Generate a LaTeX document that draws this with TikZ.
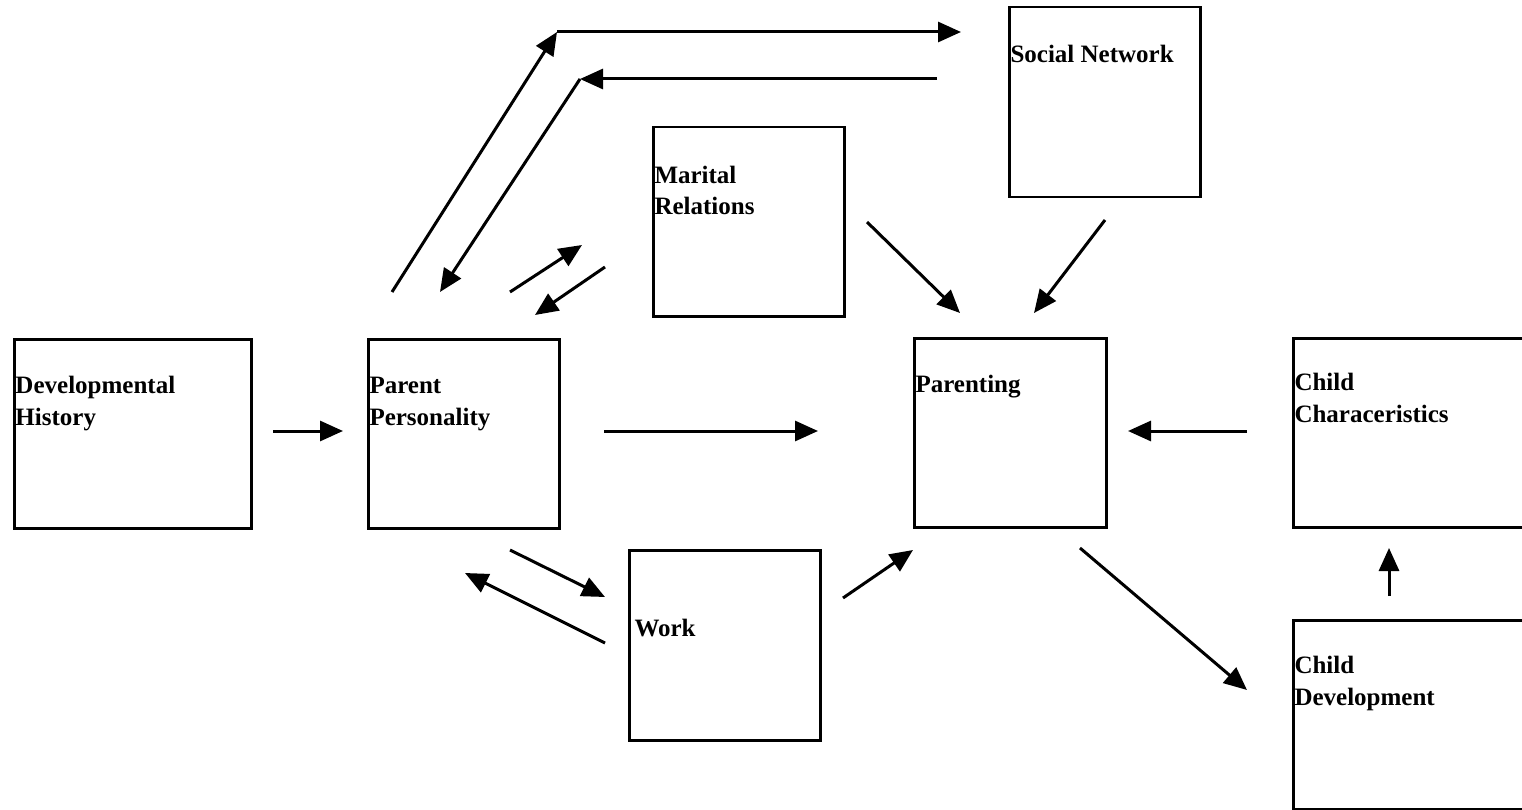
\documentclass[tikz,border=0pt]{standalone}
\usepackage{fontspec}
\setmainfont{Liberation Serif}
\usetikzlibrary{arrows.meta}

\begin{document}
\begin{tikzpicture}[x=1pt,y=-1pt,->,>={Triangle[length=23pt,width=20pt]},
                    line width=3pt,
                    box/.style={draw,line width=2.5pt,anchor=north west,inner sep=0pt,
                                minimum width=191pt,minimum height=189pt},
                    lbl/.style={anchor=base west,inner sep=0pt,align=left,
                                font=\bfseries\fontsize{25}{32}\selectfont}]

  \useasboundingbox (0,0) rectangle (1522,810);

  \node[box,minimum width=237pt] (dev)  at (13,338)  {};
  \node[box]                     (pers) at (367,338) {};
  \node[box]                     (mar)  at (652,126) {};
  \node[box,minimum height=190pt] (soc) at (1008,6)  {};
  \node[box,minimum width=192pt] (par)  at (913,337) {};
  \node[box,minimum width=240pt] (cc)   at (1292,337) {};
  \node[box,minimum height=190pt] (work) at (628,549) {};
  \node[box,minimum width=240pt] (cd)   at (1292,619) {};

  % base of the last line of each label
  \node[lbl] (devt)  at ([shift={(1,87)}]dev.north west)  {Developmental\\History};
  \node[lbl] (perst) at ([shift={(1,87)}]pers.north west) {Parent\\Personality};
  \node[lbl] (mart)  at ([shift={(1,89)}]mar.north west)  {Marital\\Relations};
  \node[lbl] (soct)  at ([shift={(1,57)}]soc.north west)  {Social Network};
  \node[lbl] (part)  at ([shift={(1,55)}]par.north west)  {Parenting};
  \node[lbl] (cct)   at ([shift={(1,85)}]cc.north west)   {Child\\Characeristics};
  \node[lbl] (workt) at ([shift={(5,87)}]work.north west) {Work};
  \node[lbl] (cdt)   at ([shift={(1,86)}]cd.north west)   {Child\\Development};

  % free ends of the arrows
  \coordinate (dev-o)  at (273,431);  \coordinate (pers-i) at (343,431);
  \coordinate (pers-o) at (604,431);  \coordinate (par-i)  at (818,431);
  \coordinate (cc-o)   at (1247,431); \coordinate (par-r)  at (1128,431);
  \coordinate (cd-o)   at (1389,596); \coordinate (cc-i)   at (1389,548);
  \coordinate (par-o)  at (1080,548); \coordinate (cd-i)   at (1247,690);
  \coordinate (work-o) at (843,598);  \coordinate (par-b)  at (913,550);
  \coordinate (pers-w) at (510,550);  \coordinate (work-i) at (605,597);
  \coordinate (work-b) at (605,643);  \coordinate (pers-b) at (465,573);
  \coordinate (mar-o)  at (867,222);  \coordinate (par-t)  at (960,313);
  \coordinate (soc-o)  at (1105,220); \coordinate (par-s)  at (1034,313);
  \coordinate (pers-m) at (510,292);  \coordinate (mar-i)  at (582,245);
  \coordinate (mar-b)  at (605,267);  \coordinate (pers-t) at (535,315);
  \coordinate (pers-u) at (392,292);  \coordinate (up)     at (557,32);
  \coordinate (soc-i)  at (961,32);
  \coordinate (soc-b)  at (937,79);   \coordinate (dn)     at (580,79);
  \coordinate (pers-d) at (440,292);

  \path (dev-o)  edge (pers-i)
        (pers-o) edge (par-i)
        (cc-o)   edge (par-r)
        (cd-o)   edge (cc-i)
        (par-o)  edge (cd-i)
        (work-o) edge (par-b)
        (pers-w) edge (work-i)
        (work-b) edge (pers-b)
        (mar-o)  edge (par-t)
        (soc-o)  edge (par-s)
        (pers-m) edge (mar-i)
        (mar-b)  edge (pers-t)
        (pers-u) edge (up)
        (up)     edge (soc-i)
        (soc-b)  edge (dn)
        (dn)     edge (pers-d);
\end{tikzpicture}
\end{document}
